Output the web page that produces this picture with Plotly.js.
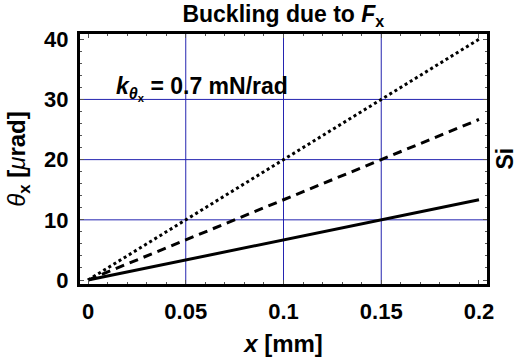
<!DOCTYPE html>
<html>
<head>
<meta charset="utf-8">
<script src="https://cdn.plot.ly/plotly-3.0.1.min.js"></script>
<style>
  html, body { margin: 0; padding: 0; background: #fff; }
  #chart { width: 518px; height: 359px; }
</style>
</head>
<body>
<div id="chart"></div>
<script>
// Tip position along the beam [mm]
const positions = [0, 0.05, 0.1, 0.15, 0.2];
// Rotation θx [µrad] for the three load cases
const solidSeries  = [0, 3.33, 6.67, 10.0, 13.33];
const dashedSeries = [0, 6.67, 13.33, 20.0, 26.67];
const dottedSeries = [0, 10.0, 20.0, 30.0, 40.0];

const xTicks = [0, 0.05, 0.1, 0.15, 0.2];
const xTickText = ['0', '0.05', '0.1', '0.15', '0.2'];
const yTicks = [0, 10, 20, 30, 40];
const yTickText = ['0', '10', '20', '30', '40'];
// interior grid positions
const xGrid = [0.05, 0.1, 0.15];
const yGrid = [10, 20, 30];

const FONT = 'Liberation Sans, Arial, Helvetica, sans-serif';
const GRID = '#2424b0';
const X_RANGE = [-0.0041, 0.2041];
const Y_RANGE = [-0.66, 40.87];

function line(y, dash) {
  return {
    x: positions, y: y, type: 'scatter', mode: 'lines',
    line: { color: '#000', width: 3, dash: dash },
    hoverinfo: 'skip', showlegend: false, cliponaxis: false
  };
}

const traces = [
  line(solidSeries, 'solid'),
  line(dashedSeries, '9px,6px'),
  line(dottedSeries, 'dot')
];

const gridShapes = [];
xGrid.forEach(v => gridShapes.push({
  type: 'line', xref: 'x', yref: 'paper', x0: v, x1: v, y0: 0, y1: 1,
  line: { color: GRID, width: 1 }, layer: 'below'
}));
yGrid.forEach(v => gridShapes.push({
  type: 'line', xref: 'paper', yref: 'y', x0: 0, x1: 1, y0: v, y1: v,
  line: { color: GRID, width: 1 }, layer: 'below'
}));

const axisCommon = {
  showline: true, linecolor: '#000', linewidth: 3, mirror: 'allticks',
  ticks: 'inside', ticklen: 4, tickwidth: 1, tickcolor: '#555',
  showgrid: false, zeroline: false, tickmode: 'array',
  tickfont: { family: FONT, size: 22, color: '#000', weight: 'bold' }
};

const layout = {
  width: 518, height: 359,
  margin: { l: 80, r: 31, t: 34, b: 75 },
  paper_bgcolor: '#fff', plot_bgcolor: '#fff',
  font: { family: FONT, color: '#000' },
  shapes: gridShapes,
  title: {
    text: 'Buckling due to <i>F</i><sub>x</sub>',
    font: { family: FONT, size: 23, weight: 'bold', color: '#000' },
    x: 0.547, xanchor: 'center', y: 0.96, yanchor: 'middle'
  },
  xaxis: Object.assign({}, axisCommon, {
    range: X_RANGE,
    tickvals: xTicks, ticktext: xTickText, ticklabelstandoff: 6,
    minor: { dtick: 0.01, ticks: 'inside', ticklen: 2, tickcolor: '#555', showgrid: false },
    title: {
      text: '<i>x</i> [mm]',
      font: { family: FONT, size: 24, weight: 'bold', color: '#000' },
      standoff: 12
    }
  }),
  yaxis: Object.assign({}, axisCommon, {
    range: Y_RANGE,
    tickvals: yTicks, ticktext: yTickText, ticklabelstandoff: 4,
    minor: { dtick: 2, ticks: 'inside', ticklen: 2, tickcolor: '#555', showgrid: false },
    title: {
      text: '<span style="font-weight:normal"><i>θ</i></span><sub>x</sub> [<span style="font-weight:normal"><i>μ</i></span>rad]',
      font: { family: FONT, size: 24, weight: 'bold', color: '#000' },
      standoff: 12
    }
  }),
  annotations: [
    {
      xref: 'paper', yref: 'paper', x: 0.083, y: 0.782, xanchor: 'left', yanchor: 'middle',
      showarrow: false,
      text: '<i>k</i><sub><i>θ</i><sub>x</sub></sub> = 0.7 mN/rad',
      font: { family: FONT, size: 23, weight: 'bold', color: '#000' }
    },
    {
      xref: 'paper', yref: 'paper', x: 1.043, y: 0.5, xanchor: 'center', yanchor: 'middle',
      showarrow: false, textangle: -90, text: 'Si',
      font: { family: FONT, size: 23, weight: 'bold', color: '#000' }
    }
  ]
};

Plotly.newPlot('chart', traces, layout, { staticPlot: true, displayModeBar: false });
</script>
</body>
</html>
